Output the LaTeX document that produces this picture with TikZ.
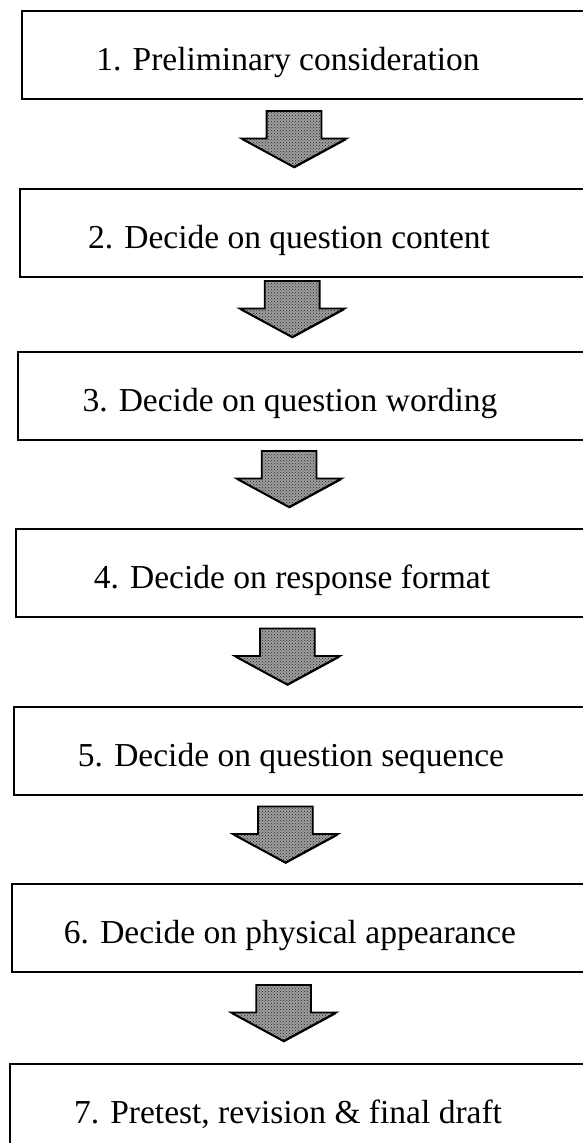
\documentclass[tikz,border=0pt]{standalone}
\usepackage{fontspec}
\setmainfont{Liberation Serif}
\usetikzlibrary{shapes.arrows,patterns,shadows}

\tikzset{
  stagebox/.style={draw=black, line width=2pt, rectangle, inner sep=0pt,
    minimum height=87.5pt, anchor=north west},
  stagetext/.style={anchor=base, inner sep=0pt,
    font=\fontsize{33.5}{40}\selectfont},
  blockarrow/.style={single arrow, rotate=-90, anchor=tip, draw=black,
    line width=1.8pt, line join=miter, inner xsep=0pt, inner ysep=26.5pt,
    minimum width=0pt, minimum height=56pt, single arrow head extend=25pt,
    single arrow tip angle=123,
    drop shadow={shadow xshift=0.3pt, shadow yshift=-1.4pt, fill=black, opacity=1},
    preaction={fill=black!38},
    pattern=crosshatch dots, pattern color=black!85}
}

\begin{document}
\begin{tikzpicture}[x=1pt,y=-1pt]
  \useasboundingbox (0,0) rectangle (583,1143);
  \clip (0,0) rectangle (583,1143);

  % stage boxes (they run past the right and bottom edges)
  \node[stagebox, minimum width=580pt] (b1) at (20.5,10)  {};
  \node[stagebox, minimum width=580pt] (b2) at (19,188)   {};
  \node[stagebox, minimum width=580pt] (b3) at (16.7,351) {};
  \node[stagebox, minimum width=580pt] (b4) at (15,528)   {};
  \node[stagebox, minimum width=580pt] (b5) at (13,706)   {};
  \node[stagebox, minimum width=580pt] (b6) at (11,883)   {};
  \node[stagebox, minimum width=580pt] (b7) at (9.3,1063) {};

  % stage labels
  \node[stagetext] (t1) at (288,70)   {1. Preliminary consideration};
  \node[stagetext] (t2) at (289,248)  {2. Decide on question content};
  \node[stagetext] (t3) at (290,411)  {3. Decide on question wording};
  \node[stagetext] (t4) at (292,588)  {4. Decide on response format};
  \node[stagetext] (t5) at (291,766)  {5. Decide on question sequence};
  \node[stagetext] (t6) at (290,943)  {6. Decide on physical appearance};
  \node[stagetext] (t7) at (288,1123) {7. Pretest, revision \& final draft};

  % block arrows between stages
  \node[blockarrow] (a1) at (294,168)    {};
  \node[blockarrow] (a2) at (292.2,338)  {};
  \node[blockarrow] (a3) at (289.1,508)  {};
  \node[blockarrow] (a4) at (287.3,685.5) {};
  \node[blockarrow] (a5) at (285.4,863.5) {};
  \node[blockarrow] (a6) at (283.6,1042) {};
\end{tikzpicture}
\end{document}
